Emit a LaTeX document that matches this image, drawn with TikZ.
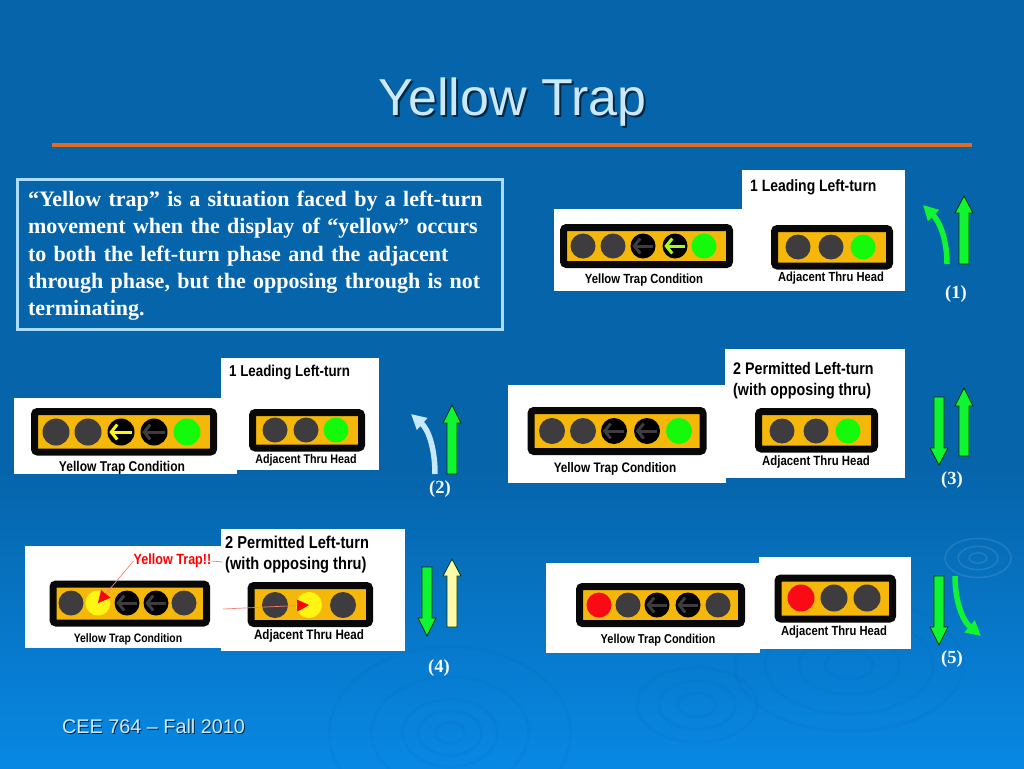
\documentclass[tikz,border=0pt]{standalone}
\usepackage{fontspec}
\setmainfont{Liberation Serif}
\setsansfont{Liberation Sans}
\newfontfamily\narrowfont[FakeStretch=0.85]{Liberation Sans}
\definecolor{slidetop}{RGB}{6,100,170}
\definecolor{slidebot}{RGB}{8,136,228}
\definecolor{titlecol}{RGB}{205,232,250}
\definecolor{rulecol}{RGB}{224,108,36}
\definecolor{notecol}{RGB}{170,220,250}
\definecolor{housing}{RGB}{8,8,8}
\definecolor{backcol}{RGB}{245,184,10}
\definecolor{lampoff}{RGB}{62,60,62}
\definecolor{lampgo}{RGB}{20,250,10}
\definecolor{lamphalt}{RGB}{250,10,20}
\definecolor{lampamber}{RGB}{255,245,20}
\definecolor{flashcol}{RGB}{165,250,30}
\definecolor{movego}{RGB}{15,245,50}
\definecolor{movefade}{RGB}{200,232,252}
\definecolor{movewarn}{RGB}{255,250,170}
\definecolor{tracecol}{RGB}{245,130,120}
\definecolor{ringcol}{RGB}{0,70,140}
\usetikzlibrary{arrows.meta}

\begin{document}
\begin{tikzpicture}[x=1pt,y=-1pt,
  panel/.style={fill=white},
  headbox/.style={draw=housing,fill=backcol,line width=7pt,rounded corners=3pt},
  lamp/.style={circle,inner sep=0pt,minimum size=25pt},
  lamparrow/.style={draw=#1,line width=3pt,shorten >=2pt,shorten <=3pt,
    -{Straight Barb[length=6pt,width=15pt,line width=3pt]}},
  caption/.style={font=\narrowfont\bfseries\fontsize{#1}{15}\selectfont,text=black,inner sep=0pt},
  heading/.style={font=\narrowfont\bfseries\fontsize{#1}{21}\selectfont,text=black,inner sep=0pt,
    align=left,anchor=west},
  movearrow/.style={draw=black!80!green,line width=0.8pt,line join=miter},
  turnarrow/.style={draw=movego,line width=5.5pt,-{Triangle[length=15pt,width=15pt]}},
  tag/.style={font=\bfseries\fontsize{18.5}{20}\selectfont,text=white!88!notecol,inner sep=0pt},
  trace/.style={draw=tracecol,line width=0.7pt},
  ripple/.style={draw=ringcol,opacity=0.05,line width=3pt},
  lightripple/.style={draw=white,opacity=0.1,line width=1.6pt}
]
  \useasboundingbox (0,0) rectangle (1024,768);
  \fill[slidetop] (0,0) rectangle (1024,768);
  \shade[top color=slidetop,bottom color=slidebot] (0,470) rectangle (1024,768);

  % water rings
  \foreach \r in {8,18,30} \draw[lightripple] (978,558) ellipse ({\r*1.1} and {\r*0.65});
  \foreach \r in {14,30,45,75,115} \draw[ripple] (450,733) ellipse ({\r*1.05} and {\r*0.75});
  \foreach \r in {16,32,50} \draw[ripple] (697,705) ellipse ({\r*1.2} and {\r*0.75});
  \foreach \r in {20,42,70,95} \draw[ripple] (849,665) ellipse ({\r*1.2} and {\r*0.7});

  % title
  \node[font=\sffamily\fontsize{52}{55}\selectfont,text=black!60!slidetop,anchor=base] (titleshadow) at (514.5,117) {Yellow Trap};
  \node[font=\sffamily\fontsize{52}{55}\selectfont,text=titlecol,anchor=base] (title) at (512.5,115) {Yellow Trap};
  \fill[rulecol] (52,143) rectangle (972,147);
  \node[draw=notecol,line width=3pt,anchor=north west,text=white,inner xsep=10.8pt,inner ysep=0pt,
    minimum height=150pt,text width=464pt,align=left,
    font=\bfseries\fontsize{22}{27.4}\selectfont] (note) at (15.7,178)
    {\rule{0pt}{18pt}“Yellow trap” is a situation faced by a left-turn\\
     movement when the display of “yellow” occurs\\
     to both the left-turn phase and the adjacent\\
     through phase, but the opposing through is not\\
     terminating.};

  % case 1
  \fill[panel] (554,209) rectangle (743,291);
  \fill[panel] (742,170) rectangle (905,291);
  \draw[headbox] (563.5,227.5) rectangle (729.5,264.5);
  \foreach \n/\x/\c in {a/583/lampoff,b/613/lampoff,c/643/black,d/675/black,e/704/lampgo}
    \node[lamp,fill=\c] (one\n) at (\x,246) {};
  \draw[lamparrow=lampoff] (onec.east) -- (onec.west);
  \draw[lamparrow=flashcol] (oned.east) -- (oned.west);
  \draw[headbox] (774.5,228.5) rectangle (889.5,266);
  \foreach \n/\x/\c in {a/798/lampoff,b/831/lampoff,c/863/lampgo}
    \node[lamp,fill=\c] (oneadj\n) at (\x,247) {};
  \node[caption=13.3] (onecap) at (644,280) {Yellow Trap Condition};
  \node[caption=13.2] (oneadjcap) at (831,278) {Adjacent Thru Head};
  \node[heading=16.4] (onehead) at (750,187) {1 Leading Left-turn};
  \coordinate (oneturnA) at (947,264);
  \coordinate (oneturnB) at (923,205);
  \draw[turnarrow] (oneturnA) .. controls (947,240) and (940,222) .. (oneturnB);
  \node[tag] (onetag) at (956,294) {(1)};

  % case 2
  \fill[panel] (14,398) rectangle (237,474);
  \fill[panel] (221,358) rectangle (379,470);
  \draw[headbox] (34.5,411.5) rectangle (213.5,452);
  \foreach \n/\x/\c in {a/56/lampoff,b/88/lampoff,c/121/black,d/154/black,e/187/lampgo}
    \node[lamp,minimum size=27pt,fill=\c] (two\n) at (\x,432) {};
  \draw[lamparrow=lampamber] (twoc.east) -- (twoc.west);
  \draw[lamparrow=lampoff] (twod.east) -- (twod.west);
  \draw[headbox] (252.5,412.5) rectangle (361.5,448);
  \foreach \n/\x/\c in {a/275/lampoff,b/306/lampoff,c/336/lampgo}
    \node[lamp,fill=\c] (twoadj\n) at (\x,430) {};
  \node[caption=14.2] (twocap) at (122,468) {Yellow Trap Condition};
  \node[caption=12.6] (twoadjcap) at (306,460) {Adjacent Thru Head};
  \node[heading=15.7] (twohead) at (229,372) {1 Leading Left-turn};
  \coordinate (twoturnA) at (435,474);
  \coordinate (twoturnB) at (411,414);
  \draw[turnarrow,draw=movefade] (twoturnA) .. controls (435,450) and (429,430) .. (twoturnB);
  \node[tag] (twotag) at (440,489) {(2)};

  % case 3
  \fill[panel] (508,385) rectangle (726,483);
  \fill[panel] (725,349) rectangle (905,478);
  \draw[headbox] (531,410.5) rectangle (703,451.5);
  \foreach \n/\x/\c in {a/552/lampoff,b/583/lampoff,c/614/black,d/647/black,e/679/lampgo}
    \node[lamp,minimum size=26pt,fill=\c] (three\n) at (\x,431) {};
  \draw[lamparrow=lampoff] (threec.east) -- (threec.west);
  \draw[lamparrow=lampoff] (threed.east) -- (threed.west);
  \draw[headbox] (758.5,411.5) rectangle (874.5,449);
  \foreach \n/\x/\c in {a/782/lampoff,b/816/lampoff,c/848/lampgo}
    \node[lamp,fill=\c] (threeadj\n) at (\x,431) {};
  \node[caption=13.8] (threecap) at (615,469) {Yellow Trap Condition};
  \node[caption=13.4] (threeadjcap) at (816,462) {Adjacent Thru Head};
  \node[heading=16.8] (threehead) at (733,380.5) {2 Permitted Left-turn\\(with opposing thru)};
  \node[tag] (threetag) at (952,480) {(3)};

  % case 4
  \fill[panel] (25,546) rectangle (222,648);
  \fill[panel] (221,529) rectangle (405,651);
  \draw[headbox] (53,584) rectangle (206.5,623);
  \foreach \n/\x/\c in {a/71/lampoff,b/98/lampamber,c/127/black,d/156/black,e/184/lampoff}
    \node[lamp,fill=\c] (four\n) at (\x,603) {};
  \draw[lamparrow=lampoff] (fourc.east) -- (fourc.west);
  \draw[lamparrow=lampoff] (fourd.east) -- (fourd.west);
  \draw[headbox] (251,585.5) rectangle (369.5,623.5);
  \foreach \n/\x/\c in {a/275/lampoff,b/309/lampamber,c/343/lampoff}
    \node[lamp,minimum size=26pt,fill=\c] (fouradj\n) at (\x,605) {};
  \node[caption=12.2] (fourcap) at (128,639) {Yellow Trap Condition};
  \node[caption=13.7] (fouradjcap) at (309,636) {Adjacent Thru Head};
  \node[heading=17.2] (fourhead) at (225,554.5) {2 Permitted Left-turn\\(with opposing thru)};
  \node[font=\narrowfont\bfseries\fontsize{14.8}{16}\selectfont,text=red,inner sep=0pt] (fourtrap) at (172.5,561) {Yellow Trap!!};
  \coordinate (fourlink) at (222.5,562);
  \coordinate (fourfree) at (223,609);
  \draw[trace] (fourtrap.east) -- (fourlink);
  \draw[trace,-{Triangle[length=12pt,width=12pt,color=red]}] (fourtrap.west) -- (fourb.center);
  \draw[trace,-{Triangle[length=12pt,width=12pt,color=red]}] (fourfree) -- (fouradjb.center);
  \node[tag] (fourtag) at (439,668) {(4)};

  % case 5
  \fill[panel] (546,563) rectangle (760,653);
  \fill[panel] (759,557) rectangle (911,649);
  \draw[headbox] (579.5,586.5) rectangle (741.5,623.5);
  \foreach \n/\x/\c in {a/599/lamphalt,b/628/lampoff,c/657/black,d/688/black,e/718/lampoff}
    \node[lamp,fill=\c] (five\n) at (\x,605) {};
  \draw[lamparrow=lampoff] (fivec.east) -- (fivec.west);
  \draw[lamparrow=lampoff] (fived.east) -- (fived.west);
  \draw[headbox] (778,578) rectangle (892.5,619);
  \foreach \n/\x/\c in {a/801/lamphalt,b/834/lampoff,c/867/lampoff}
    \node[lamp,minimum size=27pt,fill=\c] (fiveadj\n) at (\x,598) {};
  \node[caption=12.9] (fivecap) at (658,640) {Yellow Trap Condition};
  \node[caption=13.2] (fiveadjcap) at (834,632) {Adjacent Thru Head};
  \coordinate (fiveturnA) at (955,576);
  \coordinate (fiveturnB) at (981,636);
  \draw[turnarrow] (fiveturnA) .. controls (955,600) and (962,620) .. (fiveturnB);
  \node[tag] (fivetag) at (952,659) {(5)};

  % block arrows: x, tail, head base, tip, colour
  \foreach \x/\a/\h/\b/\c in {964/264/213/196/movego,452/474/423/405/movego,
      939/397/448/465/movego,964/456/406/388/movego,427/567/618/636/movego,
      452/627/576/559/movewarn,939/576/627/645/movego}
    \draw[movearrow,fill=\c] (\x-5,\a) -- (\x-5,\h) -- (\x-9,\h) -- (\x,\b)
      -- (\x+9,\h) -- (\x+5,\h) -- (\x+5,\a) -- cycle;

  % footer
  \node[font=\sffamily\fontsize{19.8}{22}\selectfont,text=black!60!slidetop,anchor=west,inner sep=0pt] (footshadow) at (63,727.5) {CEE 764 – Fall 2010};
  \node[font=\sffamily\fontsize{19.8}{22}\selectfont,text=titlecol,anchor=west,inner sep=0pt] (foot) at (62,726.5) {CEE 764 – Fall 2010};
\end{tikzpicture}
\end{document}
